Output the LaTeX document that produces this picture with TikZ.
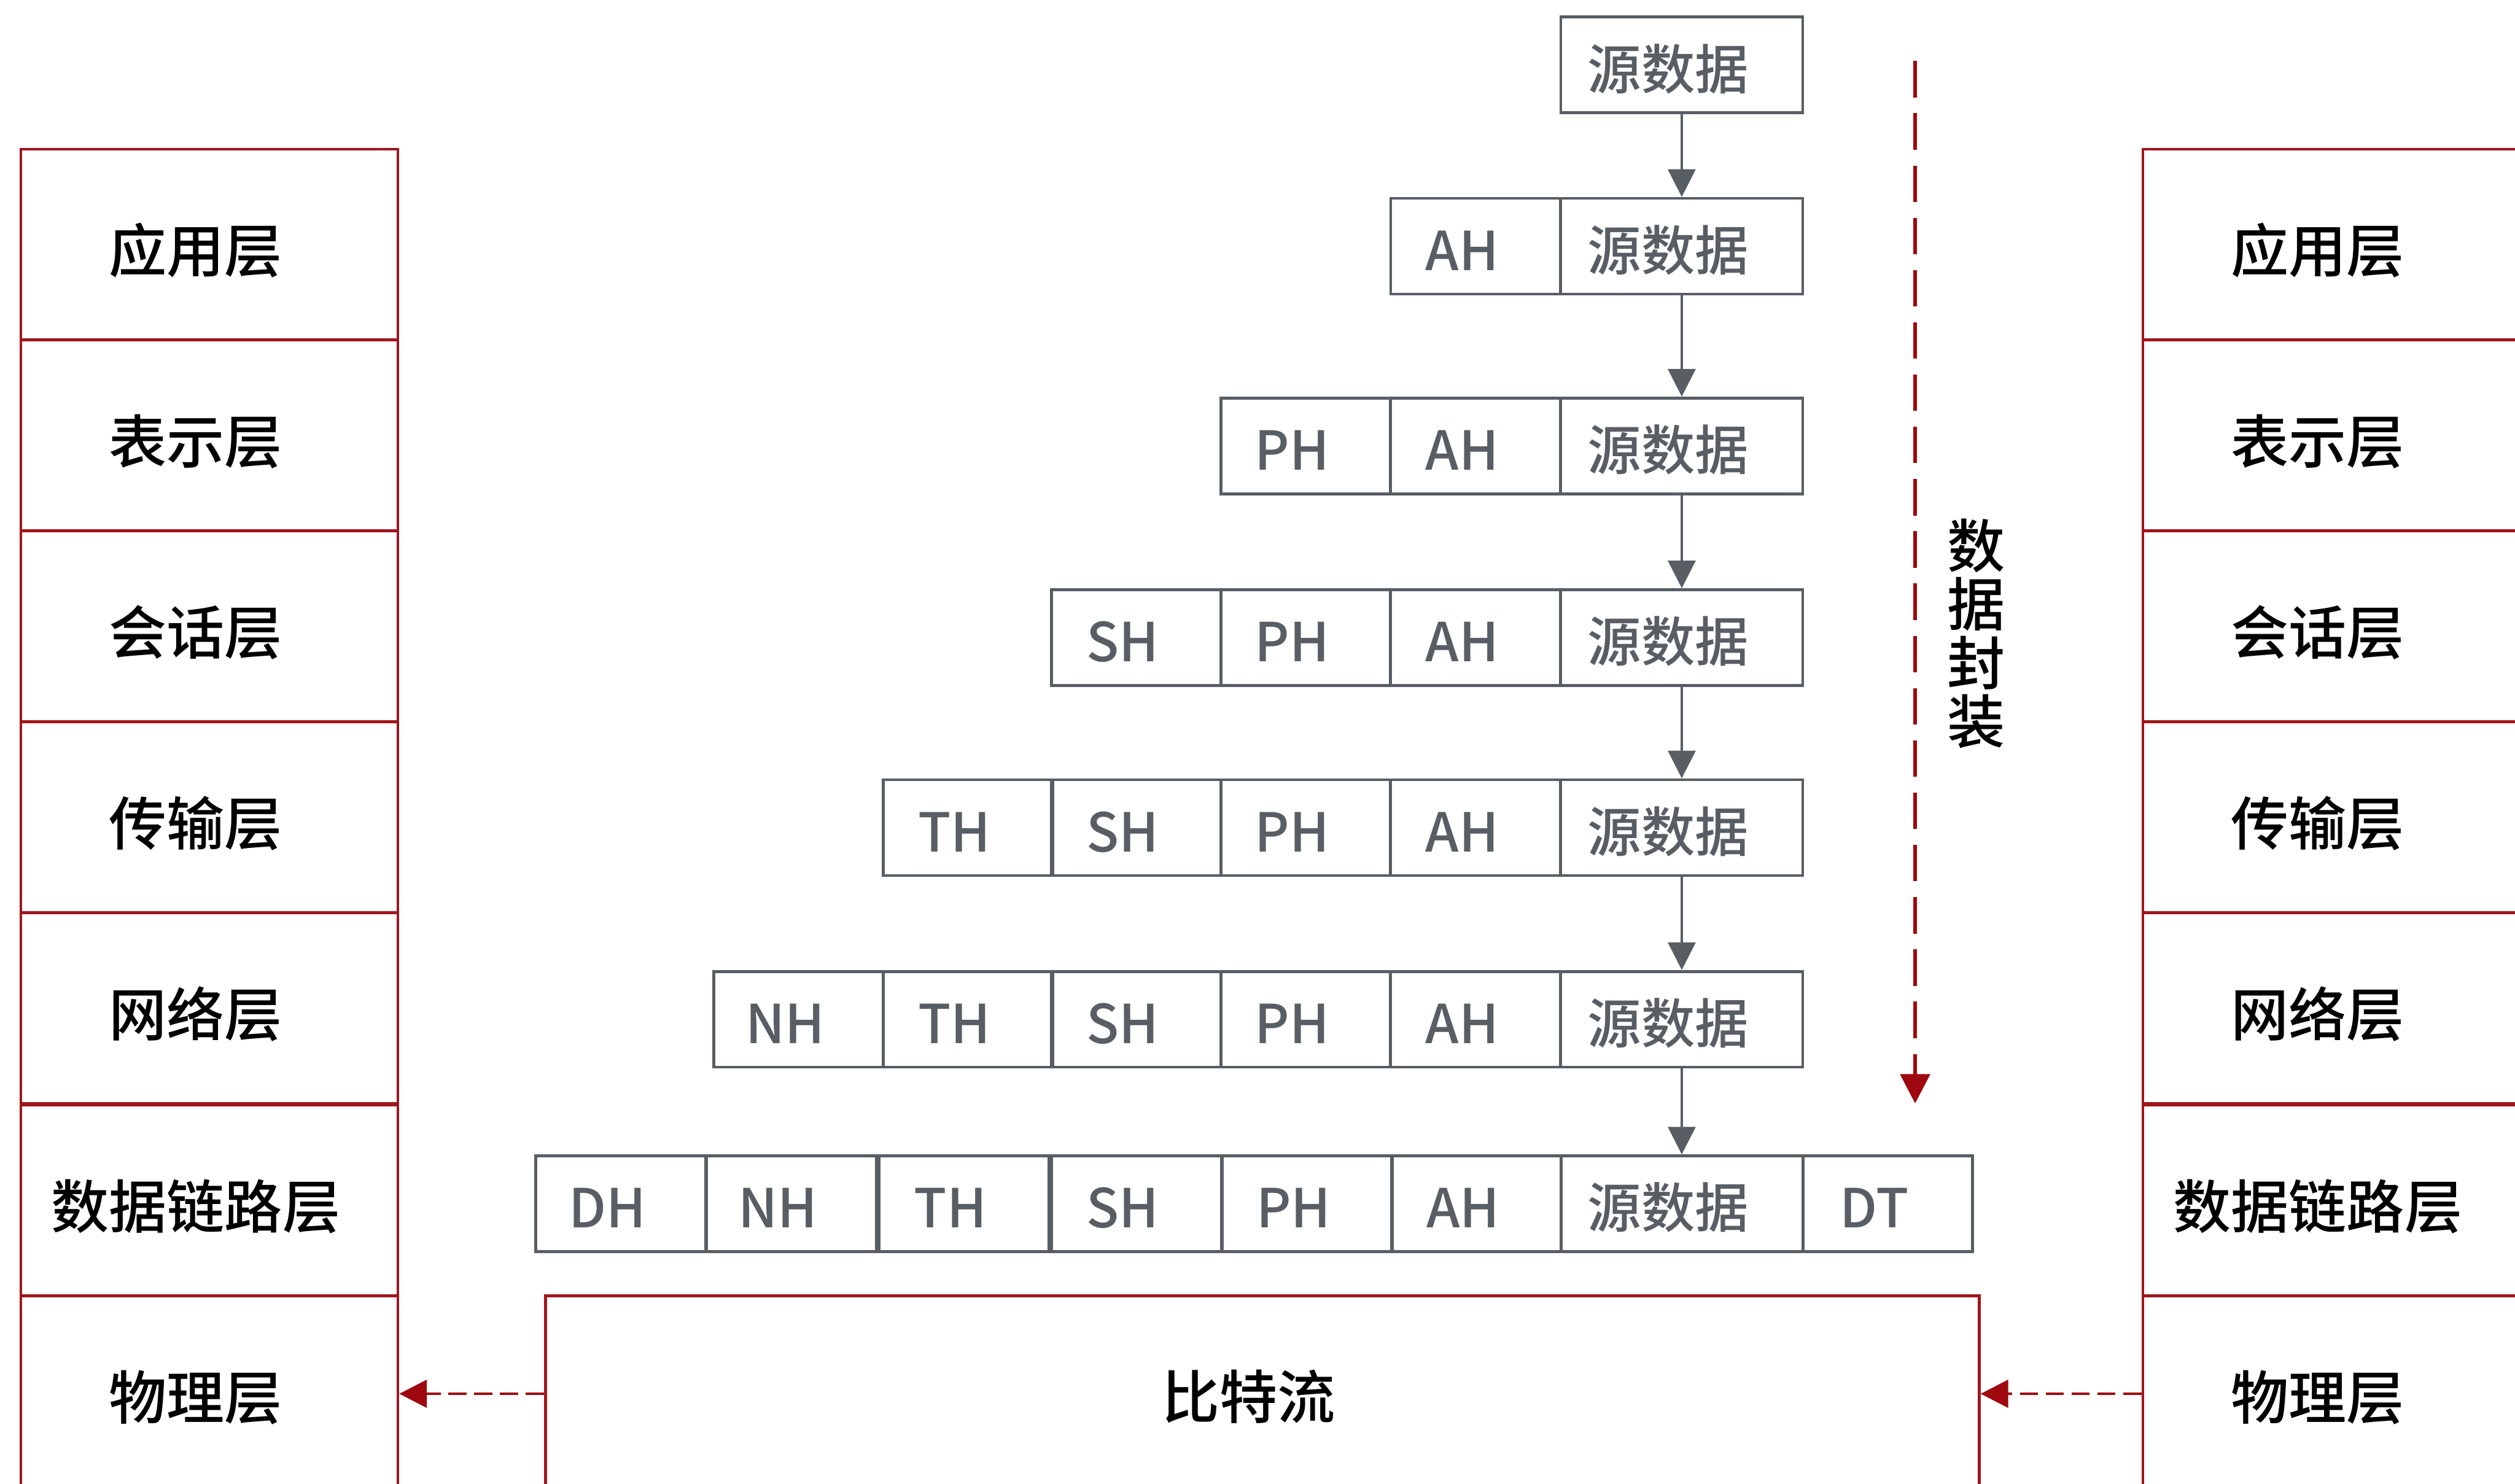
\documentclass[tikz,border=0pt]{standalone}
\usepackage{fontspec}
\setmainfont{Noto Sans CJK SC Medium}
\usetikzlibrary{arrows.meta}
\definecolor{boxgray}{RGB}{88,94,100}
\definecolor{layerred}{RGB}{160,22,28}
\definecolor{arrred}{RGB}{158,8,14}
\begin{document}
\begin{tikzpicture}[x=0.02731cm,y=-0.02731cm,
  cell/.style={draw=boxgray,line width=1.4pt,text=boxgray,minimum height=1.63cm,minimum width=2.89cm,inner sep=0pt,text height=23.4pt,text depth=0pt,font=\fontsize{26}{26}\selectfont,execute at begin node=\hspace*{-0.46cm}},
  src/.style={cell,minimum width=4.12cm},
  layer/.style={draw=layerred,line width=1.4pt,minimum width=6.42cm,minimum height=3.25cm,inner sep=0pt,text height=27pt,text depth=0pt,font=\fontsize{28}{28}\selectfont,execute at begin node=\hspace*{-0.46cm}},
  grayarrow/.style={draw=boxgray,line width=0.95pt,-{Triangle[length=0.47cm,width=0.47cm]}},
  redvert/.style={draw=arrred,line width=2pt,dash pattern=on 0.62cm off 0.27cm,-{Triangle[length=0.5cm,width=0.5cm]}},
  redhor/.style={draw=arrred,line width=1.4pt,dash pattern=on 0.31cm off 0.13cm,-{Triangle[length=0.47cm,width=0.47cm]}}]
\useasboundingbox (0,0) rectangle (1568,925);
\clip (0,0) rectangle (1568,925);
\fill[white] (0,0) rectangle (1568,925);

% left stack
\node[layer] (L1) at (130.5,152.5) {应用层};
\node[layer] (L2) at (130.5,271.5) {表示层};
\node[layer] (L3) at (130.5,390.5) {会话层};
\node[layer] (L4) at (130.5,509.5) {传输层};
\node[layer] (L5) at (130.5,628.5) {网络层};
\node[layer] (L6) at (130.5,748.5) {数据链路层};
\node[layer] (L7) at (130.5,867.5) {物理层};
% right stack
\node[layer] (R1) at (1453.5,152.5) {应用层};
\node[layer] (R2) at (1453.5,271.5) {表示层};
\node[layer] (R3) at (1453.5,390.5) {会话层};
\node[layer] (R4) at (1453.5,509.5) {传输层};
\node[layer] (R5) at (1453.5,628.5) {网络层};
\node[layer] (R6) at (1453.5,748.5) {数据链路层};
\node[layer] (R7) at (1453.5,867.5) {物理层};

% row 0
\node[src] (d0) at (1048.5,40.5) {源数据};
% row 1
\node[src] (d1) at (1048.5,153.5) {源数据};
\node[cell] (a1) at (920,153.5) {AH};
% row 2
\node[src] (d2) at (1048.5,278) {源数据};
\node[cell] (a2) at (920,278) {AH};
\node[cell] (p2) at (814,278) {PH};
% row 3
\node[src] (d3) at (1048.5,397.5) {源数据};
\node[cell] (a3) at (920,397.5) {AH};
\node[cell] (p3) at (814,397.5) {PH};
\node[cell] (s3) at (708.5,397.5) {SH};
% row 4
\node[src] (d4) at (1048.5,516) {源数据};
\node[cell] (a4) at (920,516) {AH};
\node[cell] (p4) at (814,516) {PH};
\node[cell] (s4) at (708.5,516) {SH};
\node[cell] (t4) at (603.5,516) {TH};
% row 5
\node[src] (d5) at (1048.5,635.5) {源数据};
\node[cell] (a5) at (920,635.5) {AH};
\node[cell] (p5) at (814,635.5) {PH};
\node[cell] (s5) at (708.5,635.5) {SH};
\node[cell] (t5) at (603.5,635.5) {TH};
\node[cell] (n5) at (498,635.5) {NH};
% row 6
\node[src] (d6) at (1048.5,750.5) {源数据};
\node[cell] (a6) at (920.5,750.5) {AH};
\node[cell] (p6) at (815,750.5) {PH};
\node[cell] (s6) at (708.5,750.5) {SH};
\node[cell] (t6) at (601,750.5) {TH};
\node[cell] (n6) at (493.5,750.5) {NH};
\node[cell] (h6) at (387,750.5) {DH};
\node[cell] (e6) at (1177,750.5) {DT};

% gray arrows
\draw[grayarrow] (d0.south) -- (d1.north);
\draw[grayarrow] (d1.south) -- (d2.north);
\draw[grayarrow] (d2.south) -- (d3.north);
\draw[grayarrow] (d3.south) -- (d4.north);
\draw[grayarrow] (d4.south) -- (d5.north);
\draw[grayarrow] (d5.south) -- (d6.north);

% encapsulation arrow
\coordinate (encS) at (1194,38);
\coordinate (encE) at (1194,688);
\draw[redvert] (encS) -- (encE);
\node[font=\fontsize{28}{28.4}\selectfont,align=center,inner sep=0pt] (enc) at (1232,395) {数\\据\\封\\装};

% bit stream
\node[draw=layerred,line width=1.4pt,minimum width=24.415cm,minimum height=3.33cm,inner sep=0pt,text height=24pt,text depth=0pt,font=\fontsize{28}{28}\selectfont,execute at begin node=\hspace*{-0.46cm}] (bit) at (787,869) {比特流};

\draw[redhor] (bit.west) -- (bit.west -| L7.east);
\draw[redhor] (bit.east -| R7.west) -- (bit.east);
\end{tikzpicture}
\end{document}
